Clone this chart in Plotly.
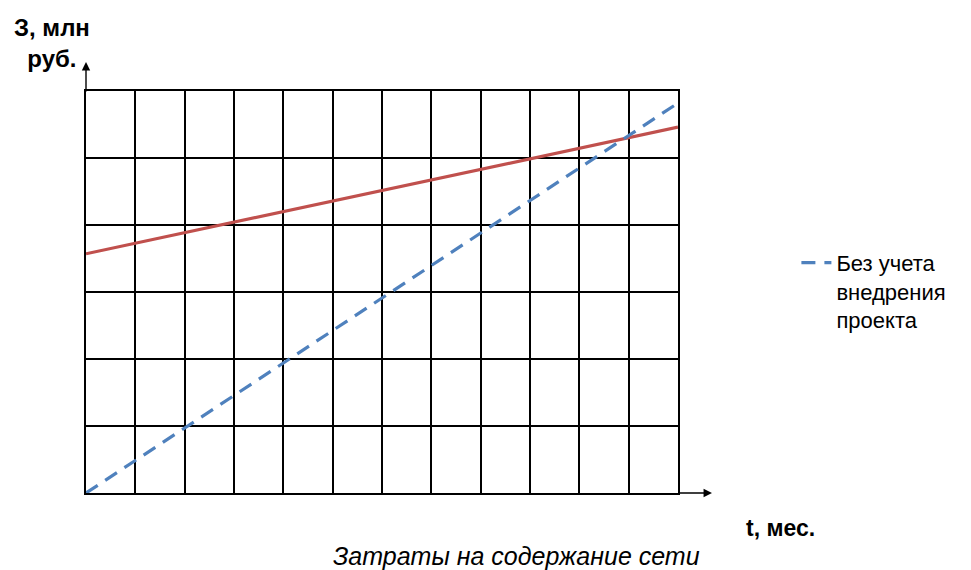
import plotly.graph_objects as go

# Data: months and costs, mln rub.
months = [0, 12]
cost_without_project = [0.0, 5.82]
cost_with_project = [3.57, 5.46]

series_name_blue = "Без учета<br>внедрения<br>проекта"
y_label = "З, млн<br>руб."
x_label = "t, мес."
caption = "Затраты на содержание сети"

fig = go.Figure()
fig.add_trace(go.Scatter(
    x=months, y=cost_with_project, mode="lines",
    line=dict(color="#C0504D", width=3.2), showlegend=False,
    name="С учетом внедрения проекта"))
fig.add_trace(go.Scatter(
    x=months, y=cost_without_project, mode="lines",
    line=dict(color="#4F81BD", width=3.2, dash="14px,9px"),
    name=series_name_blue))

axis_common = dict(showticklabels=False, ticks="", showgrid=True,
                   gridcolor="black", gridwidth=1.6, zeroline=False,
                   showline=True, linecolor="black", linewidth=1.6,
                   mirror=True, dtick=1)
fig.update_xaxes(range=[0, 12], **axis_common)
fig.update_yaxes(range=[0, 6], **axis_common)

fig.update_layout(
    width=963, height=562,
    margin=dict(l=78, r=293, t=83, b=77),
    plot_bgcolor="white", paper_bgcolor="white",
    font=dict(family="Liberation Sans, Arial, sans-serif", color="black"),
    legend=dict(x=1.20, y=0.625, xanchor="left", yanchor="top",
                font=dict(size=22), valign="top",
                bgcolor="rgba(0,0,0,0)"),
    annotations=[
        dict(text=y_label, xref="paper", yref="paper", x=-0.0574, y=1.119,
             xanchor="center", yanchor="middle", showarrow=False,
             font=dict(size=24, weight="bold")),
        dict(text=x_label, xref="paper", yref="paper", x=1.111, y=-0.087,
             xanchor="left", yanchor="middle", showarrow=False,
             font=dict(size=23, weight="bold")),
        dict(text=caption, xref="paper", yref="paper", x=0.728, y=-0.157,
             xanchor="center", yanchor="middle", showarrow=False,
             font=dict(size=25, style="italic")),
        # axis arrows
        dict(text="", xref="x", yref="paper", x=0, y=1.072,
             ax=0, ay=31, showarrow=True, arrowhead=2, arrowsize=1.2,
             arrowwidth=1.4, arrowcolor="black"),
        dict(text="", xref="paper", yref="y", x=1.0574, y=0,
             ax=-34, ay=0, showarrow=True, arrowhead=2, arrowsize=1.2,
             arrowwidth=1.4, arrowcolor="black"),
    ],
)

fig.write_html("out.html")
